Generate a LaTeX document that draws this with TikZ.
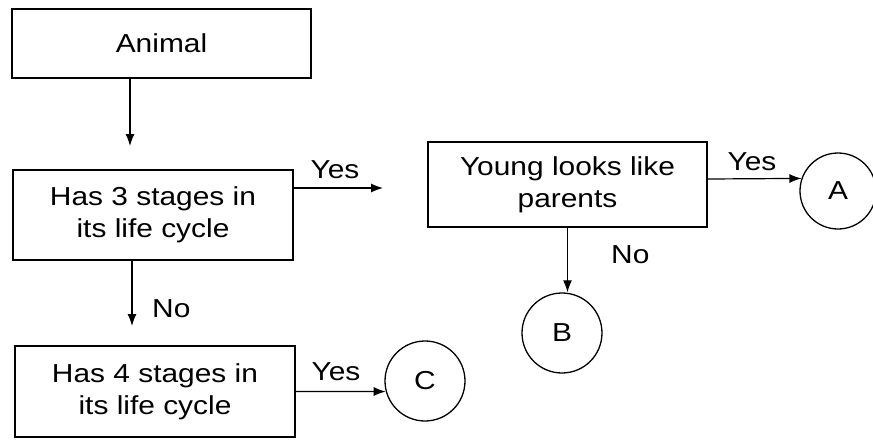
\documentclass[tikz,border=0pt]{standalone}
\usepackage{fontspec}
\setmainfont{Liberation Sans}[FakeStretch=1.15]
\usetikzlibrary{arrows.meta,calc}
\begin{document}
\begin{tikzpicture}[x=1pt,y=-1pt,
  every node/.style={font=\fontsize{26}{32}\selectfont},
  boxnode/.style={draw,line width=1.8pt,rectangle,align=center,inner sep=0pt},
  circnode/.style={draw,line width=1.3pt,circle,inner sep=0pt},
  arr/.style={line width=1.2pt,-{Latex[length=12pt,width=9pt]}},
  lbl/.style={inner sep=0pt}]
\useasboundingbox (0,0) rectangle (873,440);
\node[boxnode,minimum width=299pt,minimum height=69pt] (animal) at (161.5,43.5) {Animal};
\node[boxnode,minimum width=280pt,minimum height=90pt] (s3) at (153,215) {Has 3 stages in\\its life cycle};
\node[boxnode,minimum width=279pt,minimum height=85pt] (young) at (567.5,184.5) {Young looks like\\parents};
\node[boxnode,minimum width=280pt,minimum height=91pt] (s4) at (155,391.5) {Has 4 stages in\\its life cycle};
\node[circnode,minimum size=76pt] (A) at (838,191) {A};
\node[circnode,minimum size=80pt] (B) at (562,333) {B};
\node[circnode,minimum size=80pt] (C) at (425,381) {C};
\coordinate (e1) at (130,146);
\coordinate (e2) at (383,188);
\coordinate (e3) at (132,326);
\draw[arr] (animal.south -| e1) -- (e1);
\draw[arr] (s3.east |- e2) -- (e2);
\draw[arr] (s3.south -| e3) -- (e3);
\draw[arr] ($(young.east)+(0,-5.5)$) -- (A.161.6);
\draw[arr] (young.south) -- (young.south |- B.north);
\draw[arr] (s4.east) -- (C.195);
\node[lbl,anchor=base] (y1) at (335,178) {Yes};
\node[lbl,anchor=base] (y2) at (752,170) {Yes};
\node[lbl,anchor=base] (y3) at (336,380) {Yes};
\node[lbl,anchor=base west] (n1) at (152,317) {No};
\node[lbl,anchor=base west] (n2) at (611,263) {No};
\end{tikzpicture}
\end{document}
